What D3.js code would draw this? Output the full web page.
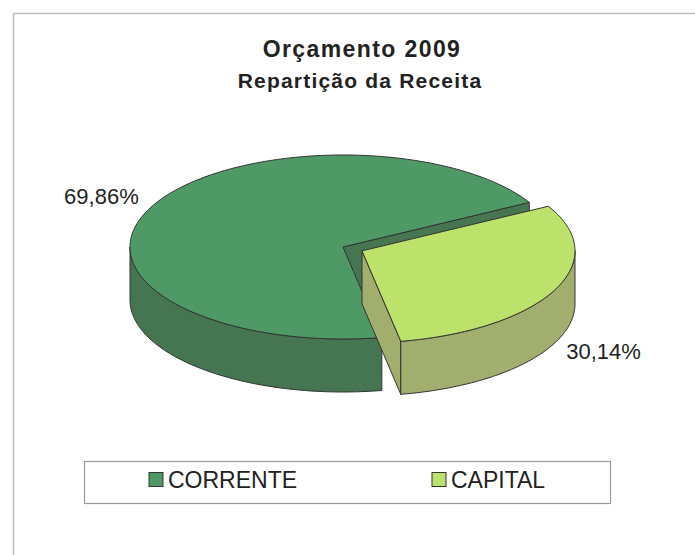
<!DOCTYPE html>
<html>
<head>
<meta charset="utf-8">
<script src="https://cdn.jsdelivr.net/npm/d3@7"></script>
<style>
  body{margin:0;background:#fff;}
  text{font-family:"Liberation Sans",Arial,sans-serif;}
</style>
</head>
<body>
<div id="chart"></div>
<script>
// data
const categories=["CORRENTE","CAPITAL"];
const values=[69.86,30.14];
const labels=["69,86%","30,14%"];
const title="Orçamento 2009";
const subtitle="Repartição da Receita";

const topColors=["#4f9966","#bde26c"];
const sideColors=["#467552","#a2ae6e"];
const edgeColor="#333";

const width=695,height=555;
const cx=343,cy=247,rx=213,ry=92,depth=53;
const explode=21;
const capitalStartDeg=61; // where the CAPITAL slice starts (clockwise from 12)

const svg=d3.select("#chart").append("svg")
  .attr("width",width).attr("height",height);

// outer frame (runs off the right/bottom of the photo)
svg.append("rect")
  .attr("x",13.5).attr("y",13.5)
  .attr("width",720).attr("height",600)
  .attr("fill","none").attr("stroke","#bdbdbd").attr("stroke-width",1.5);

// titles
svg.append("text").text(title)
  .attr("x",362).attr("y",57)
  .attr("text-anchor","middle")
  .attr("font-size",23).attr("font-weight","bold")
  .attr("letter-spacing",1.4).attr("fill","#222");
svg.append("text").text(subtitle)
  .attr("x",360).attr("y",88)
  .attr("text-anchor","middle")
  .attr("font-size",21).attr("font-weight","bold")
  .attr("letter-spacing",1.2).attr("fill","#222");

// pie layout
const total=d3.sum(values);
const startAngle=(capitalStartDeg*Math.PI/180)+(values[1]/total)*2*Math.PI;
const pie=d3.pie().sort(null).startAngle(startAngle).endAngle(startAngle+2*Math.PI);
const arcs=pie(values);

// projection on an ellipse, angle clockwise from 12 o'clock
function pt(c,a,k){
  k=k||1;
  return [c[0]+rx*k*Math.sin(a),c[1]-ry*k*Math.cos(a)];
}
function topFace(c,a0,a1){
  const n=Math.max(2,Math.ceil((a1-a0)/0.02));
  let s="M"+c[0]+","+c[1];
  for(let i=0;i<=n;i++){
    const q=pt(c,a0+(a1-a0)*i/n);
    s+="L"+q[0]+","+q[1];
  }
  return s+"Z";
}
function wall(c,a0,a1){
  // outer wall, only the part facing the viewer (90deg..270deg)
  const lo=Math.PI/2,hi=3*Math.PI/2;
  const segs=[];
  for(let off=-2*Math.PI;off<=2*Math.PI;off+=2*Math.PI){
    const s=Math.max(a0,lo+off),e=Math.min(a1,hi+off);
    if(e>s)segs.push([s,e]);
  }
  return segs.map(([s,e])=>{
    const n=Math.max(2,Math.ceil((e-s)/0.02));
    let str="";
    for(let i=0;i<=n;i++){
      const q=pt(c,s+(e-s)*i/n);
      str+=(i?"L":"M")+q[0]+","+q[1];
    }
    for(let i=n;i>=0;i--){
      const q=pt(c,s+(e-s)*i/n);
      str+="L"+q[0]+","+(q[1]+depth);
    }
    return str+"Z";
  });
}
function radialFace(c,a){
  const q=pt(c,a);
  return "M"+c[0]+","+c[1]+"L"+q[0]+","+q[1]+"L"+q[0]+","+(q[1]+depth)+"L"+c[0]+","+(c[1]+depth)+"Z";
}
// is a radial face visible? normal points to the side away from the slice
function faceVisible(a,isStart){
  const na=isStart?a-Math.PI/2:a+Math.PI/2;
  return -Math.cos(na)>0;
}

const g=svg.append("g");
arcs.forEach((d,i)=>{
  const mid=(d.startAngle+d.endAngle)/2;
  const off=i===1?explode:0;
  const c=[cx+off*Math.sin(mid),cy-off*Math.cos(mid)*ry/rx];
  const sg=g.append("g");
  [[d.startAngle,true],[d.endAngle,false]].forEach(([a,st])=>{
    if(faceVisible(a,st)){
      sg.append("path").attr("d",radialFace(c,a))
        .attr("fill",sideColors[i]).attr("stroke",edgeColor).attr("stroke-width",1).attr("stroke-linejoin","round");
    }
  });
  wall(c,d.startAngle,d.endAngle).forEach(p=>{
    sg.append("path").attr("d",p)
      .attr("fill",sideColors[i]).attr("stroke",edgeColor).attr("stroke-width",1).attr("stroke-linejoin","round");
  });
  sg.append("path").attr("d",topFace(c,d.startAngle,d.endAngle))
    .attr("fill",topColors[i]).attr("stroke",edgeColor).attr("stroke-width",1).attr("stroke-linejoin","round");
});

// value labels
arcs.forEach((d,i)=>{
  const mid=(d.startAngle+d.endAngle)/2;
  const off=i===1?explode:0;
  const c=[cx+off*Math.sin(mid),cy-off*Math.cos(mid)*ry/rx];
  const q=pt(c,mid,1.05);
  const front=Math.cos(mid)<0;
  svg.append("text").text(labels[i])
    .attr("x",q[0]+(Math.sin(mid)>0?2:-2))
    .attr("y",front?q[1]+depth+14:q[1]-2)
    .attr("text-anchor",Math.sin(mid)>0?"start":"end")
    .attr("font-size",22).attr("fill","#222");
});

// legend
const lx=84,ly=461,lw=526,lh=42;
svg.append("rect").attr("x",lx+0.5).attr("y",ly+0.5).attr("width",lw).attr("height",lh)
  .attr("fill","#fff").attr("stroke","#9a9a9a").attr("stroke-width",1.2);
const legX=d3.scalePoint().domain(categories).range([lx+65,lx+348]);
const leg=svg.selectAll("g.leg").data(categories).enter().append("g").attr("class","leg")
  .attr("transform",d=>"translate("+legX(d)+","+(ly+11)+")");
leg.append("rect").attr("width",14).attr("height",14).attr("y",0.5)
  .attr("fill",(d,i)=>topColors[i]).attr("stroke",edgeColor).attr("stroke-width",1);
leg.append("text").text(d=>d)
  .attr("x",19).attr("y",16).attr("font-size",23).attr("fill","#222");
</script>
</body>
</html>
